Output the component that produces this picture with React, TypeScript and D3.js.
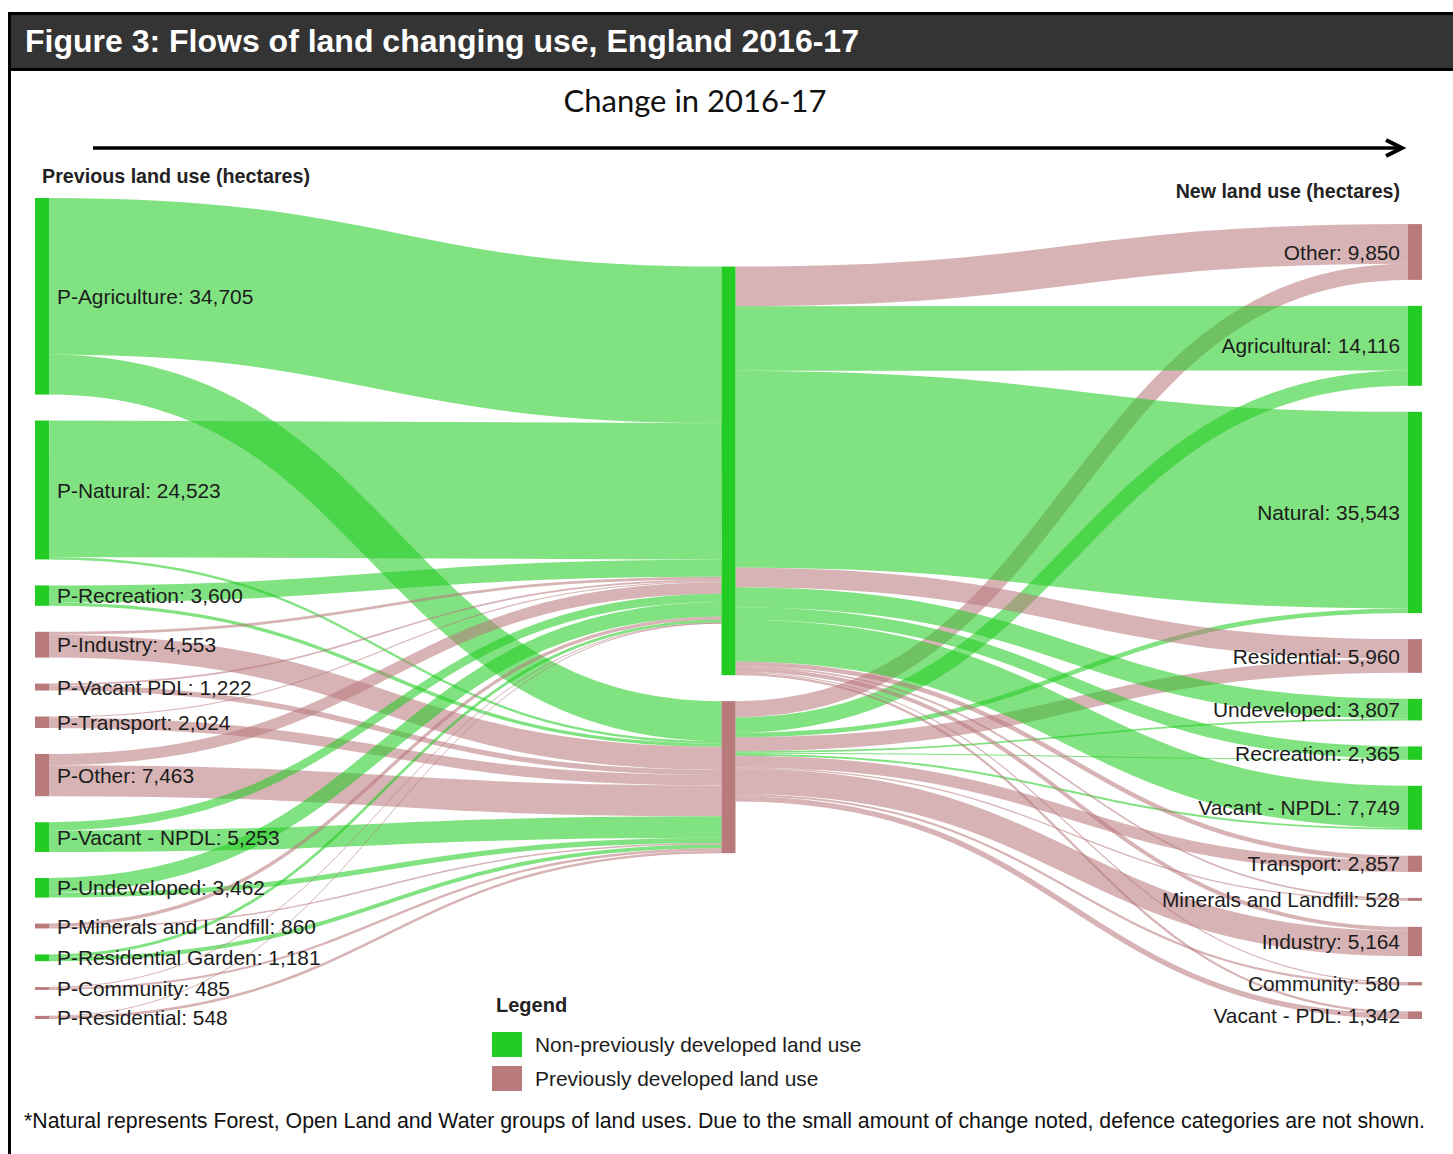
import React, { useMemo } from 'react';
import * as d3 from 'd3';

// ---------- DATA ----------
const leftNames = [
  'P-Agriculture', 'P-Natural', 'P-Recreation', 'P-Industry', 'P-Vacant PDL', 'P-Transport',
  'P-Other', 'P-Vacant - NPDL', 'P-Undeveloped', 'P-Minerals and Landfill', 'P-Residential Garden',
  'P-Community', 'P-Residential',
];
const leftTypes = ['N', 'N', 'N', 'P', 'P', 'P', 'P', 'N', 'N', 'P', 'N', 'P', 'P'];
// flow from each previous use into the two middle groups
const leftToNonPDL = [27655, 24100, 3000, 500, 300, 200, 2000, 1453, 2562, 600, 481, 85, 100];
const leftToPDL = [7050, 423, 600, 4053, 922, 1824, 5463, 3800, 900, 260, 700, 400, 448];

const middleNames = ['Non-previously developed', 'Previously developed'];
const middleTypes = ['N', 'P'];

const rightNames = [
  'Other', 'Agricultural', 'Natural', 'Residential', 'Undeveloped', 'Recreation', 'Vacant - NPDL',
  'Transport', 'Minerals and Landfill', 'Industry', 'Community', 'Vacant - PDL',
];
const rightTypes = ['P', 'N', 'N', 'P', 'N', 'N', 'N', 'P', 'P', 'P', 'P', 'P'];
const nonPDLToRight = [7000, 11400, 34743, 3500, 3500, 2200, 7400, 800, 300, 700, 200, 400];
const pdlToRight = [2850, 2716, 800, 2460, 307, 165, 349, 2057, 228, 4464, 380, 942];

const legendLabels = ['Non-previously developed land use', 'Previously developed land use'];
const legendTypes = ['N', 'P'];

// ---------- STYLE ----------
const W = 1453;
const H = 1154;
const NODE_COLOR: Record<string, string> = { N: '#22cc22', P: '#b97a7c' };
const LINK_OPACITY = 0.57;
const FONT = '"Liberation Sans", Arial, sans-serif';
const TEXT = '#1c1c1c';

const EXTENT_TOP = 198;
const EXTENT_BOTTOM = 1019;
const NODE_PAD = 26;
const NODE_W = 14;
const COL_X0 = 35;
const COL_X_LAST = 1408;

type Node = {
  name: string; type: string; col: number; value: number;
  x0: number; x1: number; y0: number; y1: number;
  sourceLinks: Link[]; targetLinks: Link[]; showLabel: boolean;
};
type Link = { source: Node; target: Node; value: number; width: number; y0: number; y1: number; colorType: string };

function buildLayout() {
  const mk = (name: string, type: string, col: number, showLabel: boolean): Node => ({
    name, type, col, value: 0, x0: 0, x1: 0, y0: 0, y1: 0, sourceLinks: [], targetLinks: [], showLabel,
  });
  const left = leftNames.map((n, i) => mk(n, leftTypes[i], 0, true));
  const mid = middleNames.map((n, i) => mk(n, middleTypes[i], 1, false));
  const right = rightNames.map((n, i) => mk(n, rightTypes[i], 2, true));
  const links: Link[] = [];
  const add = (s: Node, t: Node, v: number, colorType: string) => {
    if (!v) return;
    const l: Link = { source: s, target: t, value: v, width: 0, y0: 0, y1: 0, colorType };
    s.sourceLinks.push(l); t.targetLinks.push(l); links.push(l);
  };
  left.forEach((n, i) => { add(n, mid[0], leftToNonPDL[i], n.type); add(n, mid[1], leftToPDL[i], n.type); });
  right.forEach((n, i) => { add(mid[0], n, nonPDLToRight[i], n.type); add(mid[1], n, pdlToRight[i], n.type); });
  const nodes = [...left, ...mid, ...right];
  nodes.forEach(n => {
    n.value = Math.max(d3.sum(n.sourceLinks, l => l.value), d3.sum(n.targetLinks, l => l.value));
  });
  const cols = [left, mid, right];
  const extent = EXTENT_BOTTOM - EXTENT_TOP;
  const ky = d3.min(cols, c => (extent - (c.length - 1) * NODE_PAD) / d3.sum(c, n => n.value)) as number;
  const y = d3.scaleLinear().domain([0, 1]).range([0, ky]);
  links.forEach(l => { l.width = y(l.value); });
  const xCol = d3.scaleLinear().domain([0, 2]).range([COL_X0, COL_X_LAST]);
  nodes.forEach(n => { n.x0 = xCol(n.col); n.x1 = n.x0 + NODE_W; });

  // left column: top aligned
  let cy = EXTENT_TOP;
  left.forEach(n => { n.y0 = cy; n.y1 = cy + y(n.value); cy = n.y1 + NODE_PAD; });
  // right column: bottom aligned
  const rightTotal = d3.sum(right, n => y(n.value)) + (right.length - 1) * NODE_PAD;
  cy = EXTENT_BOTTOM - rightTotal;
  right.forEach(n => { n.y0 = cy; n.y1 = cy + y(n.value); cy = n.y1 + NODE_PAD; });

  // source side link positions for left column (targets in column order)
  left.forEach(n => {
    let yy = n.y0;
    n.sourceLinks.sort((a, b) => mid.indexOf(a.target) - mid.indexOf(b.target));
    n.sourceLinks.forEach(l => { l.y0 = yy + l.width / 2; yy += l.width; });
  });
  // middle column: relax toward incoming links, then resolve collisions
  mid.forEach(n => {
    n.targetLinks.sort((a, b) => a.source.y0 - b.source.y0);
    let off = 0; let num = 0; let den = 0;
    n.targetLinks.forEach(l => {
      const c = off + l.width / 2;
      num += l.value * (l.y0 - c); den += l.value; off += l.width;
    });
    const h = y(n.value);
    n.y0 = num / den; n.y1 = n.y0 + h;
  });
  const sortedMid = [...mid].sort((a, b) => a.y0 - b.y0);
  let prevBottom = EXTENT_TOP - NODE_PAD;
  sortedMid.forEach(n => {
    const h = n.y1 - n.y0;
    if (n.y0 < prevBottom + NODE_PAD) { n.y0 = prevBottom + NODE_PAD; n.y1 = n.y0 + h; }
    prevBottom = n.y1;
  });

  // final link positions
  nodes.forEach(n => {
    n.sourceLinks.sort((a, b) => a.target.y0 - b.target.y0);
    n.targetLinks.sort((a, b) => a.source.y0 - b.source.y0);
    let yy = n.y0;
    n.sourceLinks.forEach(l => { l.y0 = yy + l.width / 2; yy += l.width; });
    yy = n.y0;
    n.targetLinks.forEach(l => { l.y1 = yy + l.width / 2; yy += l.width; });
  });
  return { nodes, links };
}

export default function App() {
  const { nodes, links } = useMemo(buildLayout, []);
  const linkGen = d3.linkHorizontal<any, [number, number]>().x(d => d[0]).y(d => d[1]);
  const fmt = d3.format(',');
  const legendY = d3.scaleBand<string>().domain(legendLabels).range([1032, 1091]).paddingInner(0.265);

  return (
    <svg width={W} height={H} style={{ position: 'absolute', left: 0, top: 0, background: '#fff' }}
      fontFamily={FONT}>
      {/* frame & title bar */}
      <rect x={9.5} y={13.5} width={W + 20} height={H + 20} fill="#fff" stroke="#000" strokeWidth={3} />
      <rect x={11} y={15} width={W} height={54} fill="#343434" />
      <line x1={9} x2={W} y1={69.5} y2={69.5} stroke="#000" strokeWidth={3} />
      <text x={25} y={52} fill="#fff" fontWeight="bold" fontSize={32}>
        Figure 3: Flows of land changing use, England 2016-17
      </text>

      <text x={695} y={112} textAnchor="middle" fontFamily="Lato, 'Open Sans', sans-serif" fontSize={31} fill="#111">
        Change in 2016-17
      </text>
      <line x1={93} x2={1401} y1={148} y2={148} stroke="#000" strokeWidth={3.5} />
      <polyline points="1386,140 1402,148 1386,156" fill="none" stroke="#000" strokeWidth={4} />

      <text x={42} y={183} fontWeight="bold" fontSize={19.7} fill="#222">Previous land use (hectares)</text>
      <text x={1400} y={198} textAnchor="end" fontWeight="bold" fontSize={19.6} fill="#222">New land use (hectares)</text>

      {/* links */}
      <g fill="none">
        {links.map((l, i) => (
          <path key={i}
            d={linkGen({ source: [l.source.x1, l.y0], target: [l.target.x0, l.y1] }) as string}
            stroke={NODE_COLOR[l.colorType]} strokeOpacity={LINK_OPACITY}
            strokeWidth={Math.max(1, l.width)} />
        ))}
      </g>
      {/* nodes */}
      {nodes.map((n, i) => (
        <rect key={i} x={n.x0} y={n.y0} width={n.x1 - n.x0} height={Math.max(1.5, n.y1 - n.y0)}
          fill={NODE_COLOR[n.type]} />
      ))}
      {/* labels */}
      {nodes.filter(n => n.showLabel).map((n, i) => (
        <text key={i}
          x={n.col === 0 ? n.x1 + 8 : n.x0 - 8}
          y={(n.y0 + n.y1) / 2} dy="0.36em"
          textAnchor={n.col === 0 ? 'start' : 'end'}
          fontSize={20.9} fill={TEXT}>
          {`${n.name}: ${fmt(n.value)}`}
        </text>
      ))}

      {/* legend */}
      <text x={496} y={1012} fontWeight="bold" fontSize={20} fill="#222">Legend</text>
      {legendLabels.map((lab, i) => (
        <g key={lab}>
          <rect x={492} y={legendY(lab)} width={30} height={legendY.bandwidth()} fill={NODE_COLOR[legendTypes[i]]} />
          <text x={535} y={(legendY(lab) as number) + legendY.bandwidth() / 2} dy="0.36em" fontSize={20.9} fill={TEXT}>
            {lab}
          </text>
        </g>
      ))}

      <text x={24} y={1128} fontSize={21.3} fill="#111">
        *Natural represents Forest, Open Land and Water groups of land uses. Due to the small amount of change noted, defence categories are not shown.
      </text>
    </svg>
  );
}
